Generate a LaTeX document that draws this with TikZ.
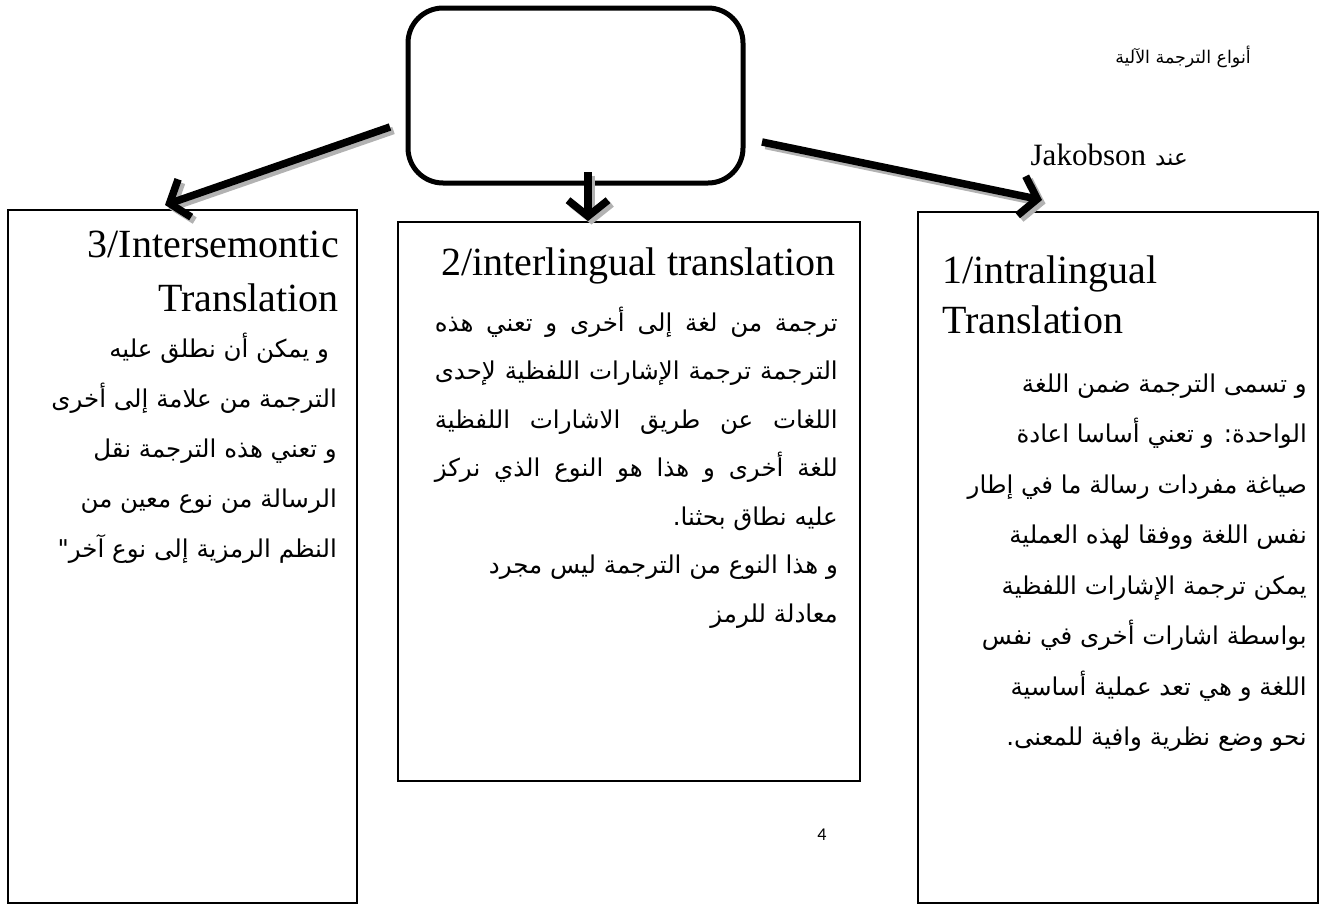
\documentclass[tikz,border=0pt]{standalone}
\usepackage{fontspec}
\setmainfont{Liberation Serif}
\newfontfamily\arabicfont[Script=Arabic]{DejaVu Sans}
\newfontfamily\pagefont{Carlito}
\TeXXeTstate=1
\usetikzlibrary{arrows.meta}

\newcommand{\rline}[2]{\ifdim#2pt>0pt\hbox to #2pt{\beginR#1\endR}\else\beginR#1\endR\fi}

\begin{document}
\begin{tikzpicture}[x=1pt,y=-1pt,
    every node/.style={inner sep=0pt},
    box/.style={draw, line width=1.3pt, inner sep=0pt},
    ttl/.style={font=\fontsize{40}{48}\selectfont},
    body/.style={font=\arabicfont\fontsize{24.5}{30}\selectfont},
    bigarrow/.style={line width=7.5pt, -{Straight Barb[length=16pt,width=40pt]}},
    shadearrow/.style={bigarrow, color=black!30}]

  \useasboundingbox (0,0) rectangle (1328,905);

  \node[draw, line width=5pt, rounded corners=35pt,
        minimum width=335pt, minimum height=175pt] (0) at (575.5,95.5) {};

  \begin{scope}[every node/.style={box}]
    \node[minimum width=400pt, minimum height=691pt] (1) at (1118,557.5) {};
    \node[minimum width=462pt, minimum height=559pt] (2) at (629,501.5) {};
    \node[minimum width=349pt, minimum height=693pt] (3) at (182.5,556.5) {};
  \end{scope}

  \coordinate (s1) at (762,142);
  \coordinate (e1) at (1042,200);
  \coordinate (s2) at (588,172);
  \coordinate (e2) at (588,221);
  \coordinate (s3) at (390,127);
  \coordinate (e3) at (165,205);

  \begin{scope}[every edge/.style={draw}]
    \foreach \s/\e in {s1/e1, s2/e2, s3/e3} {
      \path[shadearrow] ([shift={(3.5,3.5)}]\s) edge ([shift={(3.5,3.5)}]\e);
      \path[bigarrow] (\s) edge (\e);
    }
  \end{scope}

  \node[font=\arabicfont\fontsize{17.5}{22}\selectfont] (t0) at (1183,57)
    {\beginR أنواع الترجمة الآلية\endR};
  \node[anchor=base east] (t1) at (1188,165)
    {{\fontsize{31}{36}\selectfont Jakobson}\hspace{9pt}{\arabicfont\fontsize{23}{26}\selectfont\beginR عند\endR}};

  \node[ttl, anchor=base west] (1a) at (942,283) {1/intralingual};
  \node[ttl, anchor=base west] (1b) at (942,333) {Translation};
  \node[ttl, anchor=base east] (2a) at (836,275) {2/interlingual translation};
  \node[ttl, anchor=base east] (3a) at (339,257) {3/Intersemontic};
  \node[ttl, anchor=base east] (3b) at (339,311) {Translation};

  \foreach \t [count=\i from 0] in {و تسمى الترجمة ضمن اللغة,
      الواحدة: و تعني أساسا اعادة,
      صياغة مفردات رسالة ما في إطار,
      نفس اللغة ووفقا لهذه العملية,
      يمكن ترجمة الإشارات اللفظية,
      بواسطة اشارات أخرى في نفس,
      اللغة و هي تعد عملية أساسية,
      نحو وضع نظرية وافية للمعنى.}
    \node[body, anchor=base east] (1-\i) at (1307,392+50.5*\i) {\rline{\t}{0}};

  \foreach \t/\w [count=\i from 0] in {ترجمة من لغة إلى أخرى و تعني هذه/403,
      الترجمة ترجمة الإشارات اللفظية لإحدى/403,
      اللغات عن طريق الاشارات اللفظية/403,
      للغة أخرى و هذا هو النوع الذي نركز/403,
      عليه نطاق بحثنا./0,
      و هذا النوع من الترجمة ليس مجرد/0,
      معادلة للرمز/0}
    \node[body, anchor=base east] (2-\i) at (838,331+48.5*\i) {\rline{\t}{\w}};

  \foreach \t [count=\i from 0] in {\ و يمكن أن نطلق عليه,
      الترجمة من علامة إلى أخرى,
      و تعني هذه الترجمة نقل,
      الرسالة من نوع معين من,
      النظم الرمزية إلى نوع آخر"}
    \node[body, anchor=base east] (3-\i) at (337,357+50*\i) {\rline{\t}{0}};

  \node[font=\pagefont\fontsize{18}{20}\selectfont] (pg) at (822,835) {4};
\end{tikzpicture}
\end{document}
